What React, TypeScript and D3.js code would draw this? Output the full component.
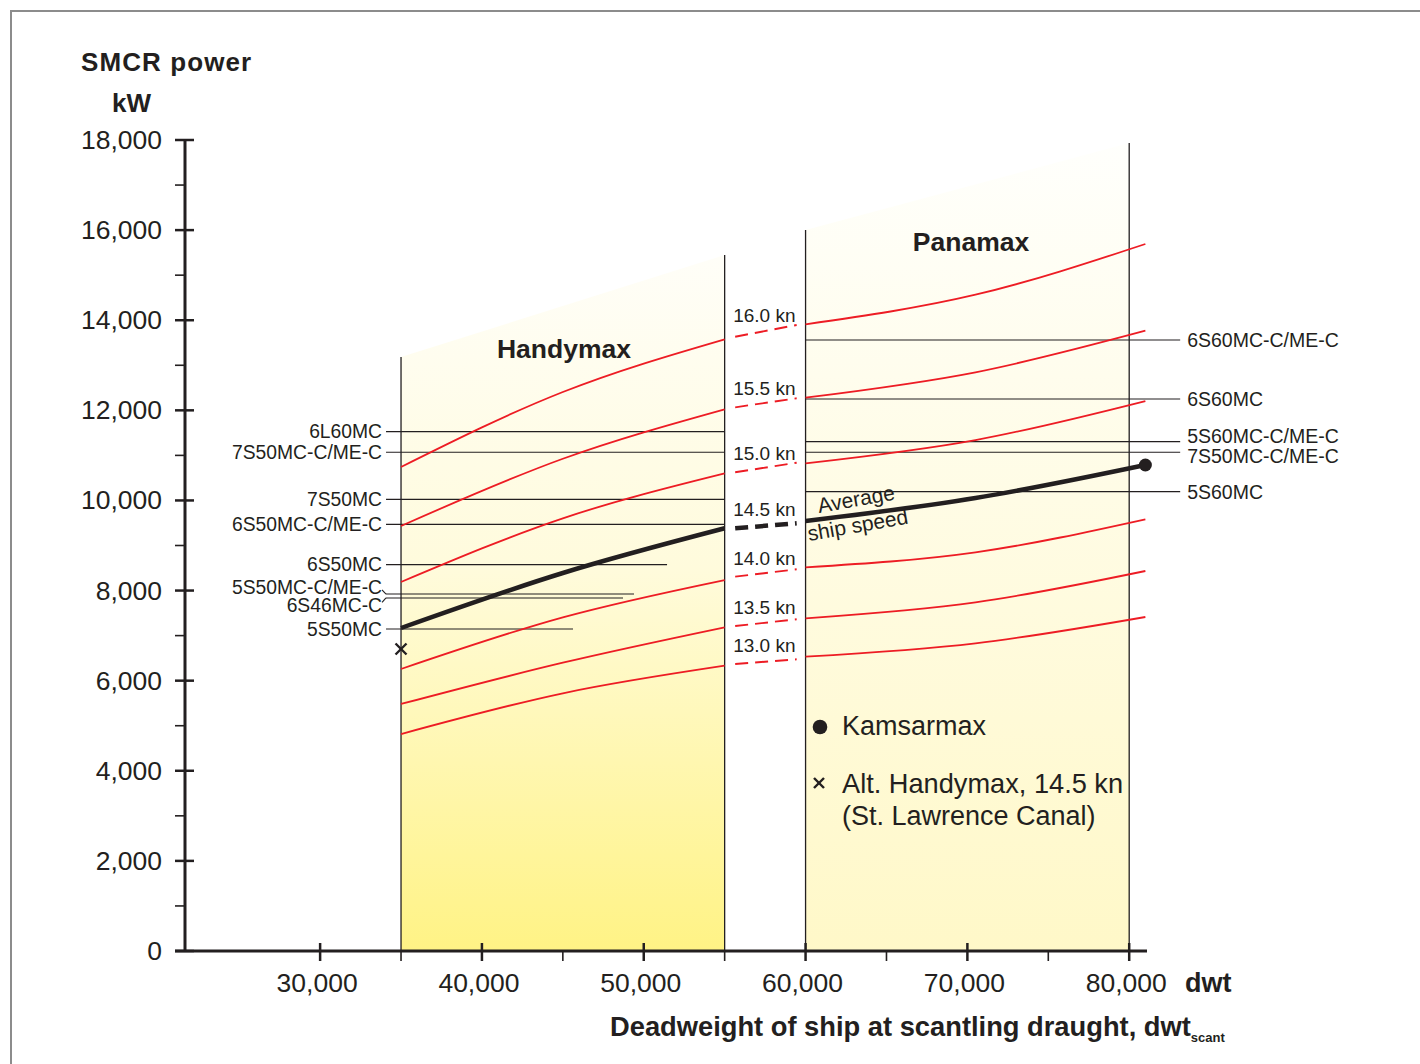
import React from "react";
import * as d3 from "d3";

// ---------- data ----------
const speeds = ["16.0 kn", "15.5 kn", "15.0 kn", "14.5 kn", "14.0 kn", "13.5 kn", "13.0 kn"];
const avgIndex = 3; // 14.5 kn = average ship speed

const handyDwt = [35000, 45000, 55000];
const handyPower = [
  [10742, 12407, 13577],
  [9433, 10926, 12023],
  [8190, 9603, 10602],
  [7169, 8390, 9382],
  [6259, 7406, 8234],
  [5482, 6399, 7184],
  [4816, 5720, 6332],
];

const panaDwt = [60000, 70500, 81000];
const panaPower = [
  [13909, 14566, 15692],
  [12281, 12844, 13767],
  [10824, 11341, 12207],
  [9544, 10054, 10787],
  [8516, 8849, 9581],
  [7384, 7739, 8434],
  [6532, 6829, 7413],
];

const gapDwt = [55650, 59450];
const gapPower = [
  [13634, 13894],
  [12067, 12267],
  [10625, 10838],
  [9382, 9493],
  [8308, 8472],
  [7213, 7362],
  [6370, 6474],
];

const leftEngines = ["6L60MC", "7S50MC-C/ME-C", "7S50MC", "6S50MC-C/ME-C", "6S50MC", "5S50MC-C/ME-C", "6S46MC-C", "5S50MC"];
const leftEnginePower = [11526, 11070, 10025, 9470, 8574, 7923, 7835, 7147];
const leftEngineEnd = [55000, 55000, 55000, 55000, 51440, 49400, 48720, 45630];

const rightEngines = ["6S60MC-C/ME-C", "6S60MC", "5S60MC-C/ME-C", "7S50MC-C/ME-C", "5S60MC"];
const rightEnginePower = [13561, 12251, 11304, 11070, 10194];
const rightEngineSpan = [60000, 83150];

const handyRegionDwt = [35000, 55000];
const handyRegionTop = [13184, 15447];
const panaRegionDwt = [60000, 80000];
const panaRegionTop = [16002, 17933];

const kamsarmax = [81000, 10787];
const altHandymax = [35000, 6703];

const xMajorTicks = [30000, 40000, 50000, 60000, 70000, 80000];
const xMinorTicks = [35000, 45000, 55000, 65000, 75000];
const yMajorTicks = [0, 2000, 4000, 6000, 8000, 10000, 12000, 14000, 16000, 18000];
const yMinorTicks = [1000, 3000, 5000, 7000, 9000, 11000, 13000, 15000, 17000];

// ---------- styles ----------
const FONT = "'Liberation Sans', Arial, Helvetica, sans-serif";
const INK = "#231f20";
const RED = "#ed1c24";
const fmt = d3.format(",");

const x = d3.scaleLinear().domain([21650, 81100]).range([185, 1147]);
const y = d3.scaleLinear().domain([0, 18000]).range([951, 140]);

const line = d3
  .line<[number, number]>()
  .x((d) => x(d[0]))
  .y((d) => y(d[1]))
  .curve(d3.curveNatural);

const leftLabelDy: Record<number, number> = { 5: -7, 6: 7.5 };
const rightLabelDy: Record<number, number> = { 2: -5.5, 3: 4 };
const speedLabelDy: Record<number, number> = { 0: -15 };

export default function App() {
  const zip = (xs: number[], ys: number[]) => xs.map((v, i) => [v, ys[i]] as [number, number]);

  const handyPoly = [
    [x(handyRegionDwt[0]), y(0)],
    [x(handyRegionDwt[0]), y(handyRegionTop[0])],
    [x(handyRegionDwt[1]), y(handyRegionTop[1])],
    [x(handyRegionDwt[1]), y(0)],
  ];
  const panaPoly = [
    [x(panaRegionDwt[0]), y(0)],
    [x(panaRegionDwt[0]), y(panaRegionTop[0])],
    [x(panaRegionDwt[1]), y(panaRegionTop[1])],
    [x(panaRegionDwt[1]), y(0)],
  ];
  const poly = (p: number[][]) => p.map((q) => q.join(",")).join(" ");

  const leftStart = x(handyRegionDwt[0]) - 15;

  return (
    <svg
      width={1420}
      height={1064}
      style={{ position: "absolute", left: 0, top: 0, background: "#fff" }}
      fontFamily={FONT}
    >
      <defs>
        <linearGradient id="gHandy" gradientUnits="userSpaceOnUse" x1="0" x2="0" y1={y(handyRegionTop[1])} y2={y(0)}>
          <stop offset="0" stopColor="#fffef8" />
          <stop offset="0.45" stopColor="#fffbdc" />
          <stop offset="1" stopColor="#fff385" />
        </linearGradient>
        <linearGradient id="gPana" gradientUnits="userSpaceOnUse" x1="0" x2="0" y1={y(panaRegionTop[1])} y2={y(0)}>
          <stop offset="0" stopColor="#fffffc" />
          <stop offset="1" stopColor="#fff8c8" />
        </linearGradient>
      </defs>

      {/* frame */}
      <line x1={10} y1={11} x2={1420} y2={11} stroke="#8c8c8c" strokeWidth={2} />
      <line x1={11} y1={10} x2={11} y2={1064} stroke="#8c8c8c" strokeWidth={2} />

      {/* regions */}
      <polygon points={poly(handyPoly)} fill="url(#gHandy)" />
      <polygon points={poly(panaPoly)} fill="url(#gPana)" />
      {[
        [handyRegionDwt[0], handyRegionTop[0]],
        [handyRegionDwt[1], handyRegionTop[1]],
        [panaRegionDwt[0], panaRegionTop[0]],
        [panaRegionDwt[1], panaRegionTop[1]],
      ].map(([d, p], i) => (
        <line key={i} x1={x(d)} x2={x(d)} y1={y(p)} y2={y(0)} stroke={INK} strokeWidth={1.3} />
      ))}

      {/* engine lines left */}
      {leftEngines.map((name, i) => {
        const yy = y(leftEnginePower[i]);
        const dy = leftLabelDy[i] ?? 0;
        return (
          <g key={name + i}>
            <line x1={leftStart} x2={x(leftEngineEnd[i])} y1={yy} y2={yy} stroke={INK} strokeWidth={1.2} />
            {dy !== 0 && (
              <line x1={leftStart - 4} y1={yy + dy * 0.6} x2={leftStart} y2={yy} stroke={INK} strokeWidth={1.1} />
            )}
            <text x={leftStart - 4} y={yy + dy + 6.8} fontSize={19.3} textAnchor="end" fill={INK}>
              {name}
            </text>
          </g>
        );
      })}

      {/* engine lines right */}
      {rightEngines.map((name, i) => {
        const yy = y(rightEnginePower[i]);
        const dy = rightLabelDy[i] ?? 0;
        return (
          <g key={name + i}>
            <line x1={x(rightEngineSpan[0])} x2={x(rightEngineSpan[1])} y1={yy} y2={yy} stroke={INK} strokeWidth={1.2} />
            <text x={x(rightEngineSpan[1]) + 7} y={yy + dy + 6.8} fontSize={19.5} fill={INK}>
              {name}
            </text>
          </g>
        );
      })}

      {/* speed curves */}
      {speeds.map((s, i) => {
        const isAvg = i === avgIndex;
        const color = isAvg ? INK : RED;
        const sw = isAvg ? 4.5 : 1.8;
        const g = zip(gapDwt, gapPower[i]);
        return (
          <g key={s}>
            <path d={line(zip(handyDwt, handyPower[i])) || ""} fill="none" stroke={color} strokeWidth={sw} />
            <path d={line(zip(panaDwt, panaPower[i])) || ""} fill="none" stroke={color} strokeWidth={sw} />
            <path
              d={d3.line()(g.map((p) => [x(p[0]), y(p[1])] as [number, number])) || ""}
              fill="none"
              stroke={color}
              strokeWidth={isAvg ? 4.5 : 1.9}
              strokeDasharray="13 7"
            />
            <text x={x(gapDwt[0]) - 2} y={y(gapPower[i][0]) + (speedLabelDy[i] ?? -12)} fontSize={19} fill={INK}>
              {s}
            </text>
          </g>
        );
      })}

      {/* average ship speed annotation */}
      <text transform={`translate(${x(60830)},${y(9721)}) rotate(-10)`} fontSize={21} fill={INK}>
        Average
      </text>
      <text transform={`translate(${x(60211)},${y(9100)}) rotate(-10)`} fontSize={21} fill={INK}>
        ship speed
      </text>

      {/* markers */}
      <circle cx={x(kamsarmax[0])} cy={y(kamsarmax[1])} r={6.5} fill={INK} />
      <g stroke={INK} strokeWidth={2.4}>
        <line x1={x(altHandymax[0]) - 5.5} y1={y(altHandymax[1]) - 5.5} x2={x(altHandymax[0]) + 5.5} y2={y(altHandymax[1]) + 5.5} />
        <line x1={x(altHandymax[0]) - 5.5} y1={y(altHandymax[1]) + 5.5} x2={x(altHandymax[0]) + 5.5} y2={y(altHandymax[1]) - 5.5} />
      </g>

      {/* region titles */}
      <text x={564} y={358} fontSize={26.5} fontWeight="bold" textAnchor="middle" fill={INK}>
        Handymax
      </text>
      <text x={971} y={251} fontSize={26.5} fontWeight="bold" textAnchor="middle" fill={INK}>
        Panamax
      </text>

      {/* legend */}
      <circle cx={820} cy={727} r={7.3} fill={INK} />
      <text x={842} y={735} fontSize={27} fill={INK}>Kamsarmax</text>
      <g stroke={INK} strokeWidth={2.4}>
        <line x1={814} y1={778} x2={824} y2={788} />
        <line x1={814} y1={788} x2={824} y2={778} />
      </g>
      <text x={842} y={793} fontSize={27.2} fill={INK}>Alt. Handymax, 14.5 kn</text>
      <text x={842} y={825} fontSize={27} fill={INK}>(St. Lawrence Canal)</text>

      {/* axes */}
      <line x1={185} x2={185} y1={y(18000)} y2={y(0)} stroke={INK} strokeWidth={3} />
      <line x1={175} x2={x(81100)} y1={y(0)} y2={y(0)} stroke={INK} strokeWidth={3} />
      {yMajorTicks.map((t) => (
        <g key={"ym" + t}>
          <line x1={175} x2={194} y1={y(t)} y2={y(t)} stroke={INK} strokeWidth={2.5} />
          <text x={162} y={y(t) + 9} fontSize={26.5} textAnchor="end" fill={INK}>
            {fmt(t)}
          </text>
        </g>
      ))}
      {yMinorTicks.map((t) => (
        <line key={"yn" + t} x1={175} x2={185} y1={y(t)} y2={y(t)} stroke={INK} strokeWidth={1.6} />
      ))}
      {xMajorTicks.map((t) => (
        <g key={"xm" + t}>
          <line x1={x(t)} x2={x(t)} y1={943} y2={961} stroke={INK} strokeWidth={2.5} />
          <text x={x(t) - 3} y={992} fontSize={26.5} textAnchor="middle" fill={INK}>
            {fmt(t)}
          </text>
        </g>
      ))}
      {xMinorTicks.map((t) => (
        <line key={"xn" + t} x1={x(t)} x2={x(t)} y1={951} y2={961} stroke={INK} strokeWidth={1.6} />
      ))}

      {/* axis titles */}
      <text x={81} y={71} fontSize={26} fontWeight="bold" fill={INK} letterSpacing={1.1}>
        SMCR power
      </text>
      <text x={112} y={112} fontSize={26} fontWeight="bold" fill={INK}>
        kW
      </text>
      <text x={1185} y={992} fontSize={27} fontWeight="bold" fill={INK}>
        dwt
      </text>
      <text x={610} y={1036} fontSize={27.3} fontWeight="bold" fill={INK}>
        Deadweight of ship at scantling draught, dwt
        <tspan fontSize={13} dy={6}>scant</tspan>
      </text>
    </svg>
  );
}
